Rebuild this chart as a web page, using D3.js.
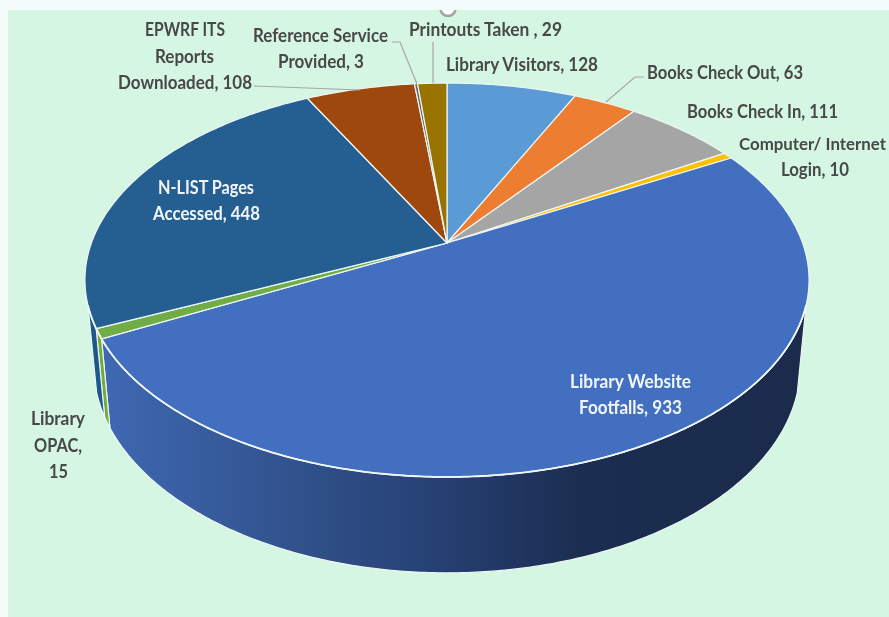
<!DOCTYPE html>
<html>
<head>
<meta charset="utf-8">
<script src="https://cdn.jsdelivr.net/npm/d3@7"></script>
<style>
  html, body { margin: 0; padding: 0; background: #f4fbfb; }
  svg { display: block; filter: blur(0.4px); }
  .label { font-family: Lato, "Open Sans", sans-serif; font-weight: 700; font-size: 18px; fill: #484848; text-anchor: middle; }
  .label.inside { fill: #f2f6fc; }
  .label.tight { font-size: 17px; }
</style>
</head>
<body>
<svg id="chart" width="889" height="617"></svg>
<script>
const categories = ['Library Visitors', 'Books Check Out', 'Books Check In', 'Computer/ Internet Login',
  'Library Website Footfalls', 'Library OPAC', 'N-LIST Pages Accessed', 'EPWRF ITS Reports Downloaded',
  'Reference Service Provided', 'Printouts Taken'];
const values = [128, 63, 111, 10, 933, 15, 448, 108, 3, 29];
const colors = ['#5b9bd5', '#ed7d31', '#a5a5a5', '#ffc000', '#426fbf', '#70ad47', '#255e91', '#9e480e', '#636363', '#997300'];

const labelLines = [
  ['Library Visitors, 128'],
  ['Books Check Out, 63'],
  ['Books Check In, 111'],
  ['Computer/ Internet', 'Login, 10'],
  ['Library Website', 'Footfalls, 933'],
  ['Library', 'OPAC,', '15'],
  ['N-LIST Pages', 'Accessed, 448'],
  ['EPWRF ITS', 'Reports', 'Downloaded, 108'],
  ['Reference Service', 'Provided, 3'],
  ['Printouts Taken , 29']
];

// layout of the labels: [left, right, middle y] per line
const labelSpots = [
  [[446, 598, 65]],
  [[647, 803, 73]],
  [[687, 838, 112]],
  [[739, 886, 144], [781, 849, 170]],
  [[570, 691, 382], [579, 682, 408]],
  [[31, 85, 419], [34, 82, 446], [49, 68, 472]],
  [[158, 254, 188], [153, 260, 214]],
  [[145, 225, 30], [155, 214, 57], [118, 252, 83]],
  [[253, 388, 36], [278, 364, 62]],
  [[409, 562, 30]]
];

const leaders = [
  [[254, 86], [360, 90]],
  [[392, 42], [400, 42], [417, 84]],
  [[433, 42], [433, 83]],
  [[644, 77], [635, 77], [606, 102]]
];

const width = 889;
const height = 617;
const svg = d3.select('#chart');
const defs = svg.append('defs');

// background panel
const panel = { x: 8, y: 10 };
defs.append('clipPath').attr('id', 'panel-clip').append('rect')
  .attr('x', panel.x).attr('y', panel.y).attr('width', width - panel.x).attr('height', height - panel.y);
const panelG = svg.append('g').attr('clip-path', 'url(#panel-clip)');
panelG.append('rect').attr('x', panel.x).attr('y', panel.y)
  .attr('width', width - panel.x).attr('height', height - panel.y).attr('fill', '#d4f6e2');
panelG.append('circle').attr('cx', 448).attr('cy', 8.5).attr('r', 7.5)
  .attr('fill', '#fff').attr('stroke', '#a0a4a4').attr('stroke-width', 2.5);

// Perspective projection of the pie disc, fitted to the picture
const tilt = 0.1878;
const topRing = { x0: 447, y0: 243, a: 355.6, b: 190 };
const bottomRing = { x0: 447, y0: 327, a: 347, b: 199.7 };

function project(angle, ring) {
  const u = Math.sin(angle);
  const v = Math.cos(angle);
  const w = 1 / (1 + tilt * v);
  return [ring.x0 + ring.a * u * w, ring.y0 - ring.b * v * w];
}

function arcPoints(a0, a1, ring) {
  const n = Math.max(2, Math.ceil(Math.abs(a1 - a0) / 0.01));
  return d3.range(n + 1).map(i => project(a0 + (a1 - a0) * i / n, ring));
}

const line = d3.line();
const pie = d3.pie().sort(null).value(d => d);
const slices = pie(values);

// Side wall, only the part turned to the viewer shows
const wallStart = 108 * Math.PI / 180;
const wallEnd = 252 * Math.PI / 180;

const wallGrad = defs.append('linearGradient').attr('id', 'wall-grad')
  .attr('gradientUnits', 'userSpaceOnUse')
  .attr('x1', 100).attr('x2', 810).attr('y1', 0).attr('y2', 0);
[[0, '#3f69b3'], [0.27, '#31528d'], [0.48, '#264072'], [0.68, '#1b2d50'], [1, '#1a2b4c']].forEach(s => {
  wallGrad.append('stop').attr('offset', s[0]).attr('stop-color', s[1]);
});

const wallFill = { 4: 'url(#wall-grad)', 5: '#6fac40', 6: '#1d588c' };

const wallG = svg.append('g');
slices.forEach((s, i) => {
  const a0 = Math.max(s.startAngle, wallStart);
  const a1 = Math.min(s.endAngle, wallEnd);
  if (a0 >= a1) return;
  const pts = arcPoints(a0, a1, topRing).concat(arcPoints(a1, a0, bottomRing));
  wallG.append('path')
    .attr('d', line(pts) + 'Z')
    .attr('fill', wallFill[i] || colors[i])
    .attr('stroke', '#eef6f4')
    .attr('stroke-width', 1.2)
    .attr('stroke-linejoin', 'round');
});

// Top of the pie
const apex = [topRing.x0, topRing.y0];
svg.append('g').selectAll('path')
  .data(slices)
  .join('path')
  .attr('d', d => line([apex].concat(arcPoints(d.startAngle, d.endAngle, topRing))) + 'Z')
  .attr('fill', (d, i) => colors[i])
  .attr('stroke', '#eef6f6')
  .attr('stroke-width', 1.2)
  .attr('stroke-linejoin', 'round');

// brighter rim along the front edge of the top
svg.append('path')
  .attr('d', line(arcPoints(wallStart, wallEnd, topRing)))
  .attr('fill', 'none')
  .attr('stroke', '#f1f6f8')
  .attr('stroke-width', 1.8);

// Leader lines
svg.append('g').selectAll('path')
  .data(leaders)
  .join('path')
  .attr('d', d => line(d))
  .attr('fill', 'none')
  .attr('stroke', '#a6a6a6')
  .attr('stroke-width', 1.2);

// Labels
const insideLabels = [4, 6];
const labelG = svg.append('g');
labelLines.forEach((lines, i) => {
  lines.forEach((txt, j) => {
    const spot = labelSpots[i][j];
    labelG.append('text')
      .attr('class', insideLabels.includes(i) ? 'label inside' : 'label')
      .classed('tight', spot[1] > 880)
      .attr('x', (spot[0] + spot[1]) / 2)
      .attr('y', spot[2])
      .attr('dy', '0.35em')
      .attr('textLength', spot[1] - spot[0])
      .attr('lengthAdjust', 'spacingAndGlyphs')
      .text(txt);
  });
});
</script>
</body>
</html>
